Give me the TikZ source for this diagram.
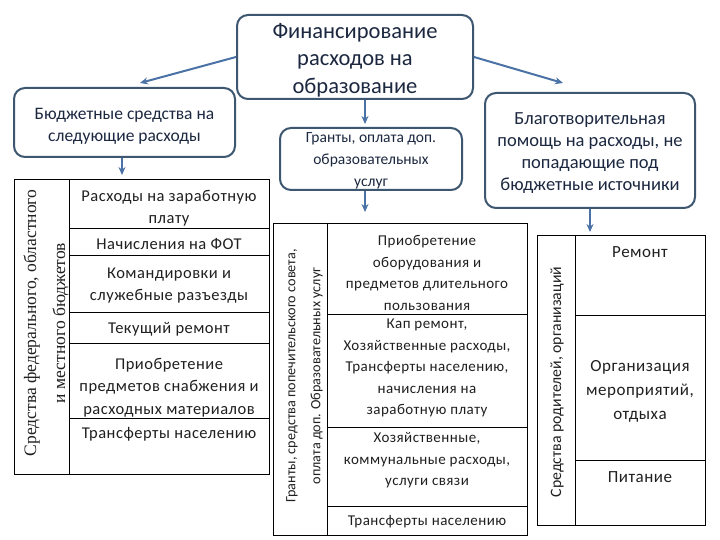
\documentclass[tikz,border=0pt]{standalone}
\usepackage{fontspec}
\setmainfont{Carlito}
\newfontfamily\seriffont{Liberation Serif}
\newfontfamily\spaced{Carlito}[LetterSpace=3]
\usetikzlibrary{arrows.meta}
\definecolor{boxline}{HTML}{3E5771}
\definecolor{arrowc}{HTML}{4A72A6}
\definecolor{boxtext}{HTML}{1C2840}
\definecolor{tabtext}{HTML}{202020}
\tikzset{
  rbox/.style={draw=boxline, line width=2pt, rounded corners=11pt, fill=white, inner sep=0pt},
  btext/.style={text=boxtext, align=center, inner sep=0pt},
  arr/.style={draw=arrowc, line width=2pt, -{Stealth[length=8pt,width=7pt]}},
  tab/.style={draw=black, line width=0.9pt, inner sep=0pt, anchor=north west},
  gridline/.style={draw=black, line width=0.9pt},
  ctext/.style={text=tabtext, align=center, inner sep=0pt, font=\spaced\fontsize{16.5}{22.5}\selectfont},
  mtext/.style={text=tabtext, align=center, inner sep=0pt, font=\spaced\fontsize{15}{21.5}\selectfont},
  rtext/.style={text=tabtext, align=center, inner sep=0pt, font=\spaced\fontsize{17}{24}\selectfont},
}
\begin{document}
\begin{tikzpicture}[x=1pt,y=-1pt]
\useasboundingbox[fill=white] (0,0) rectangle (720,540);

% rounded boxes
\node[rbox, minimum width=236pt, minimum height=84pt] (top) at (355,57) {};
\node[btext, font=\fontsize{22.5}{27.5}\selectfont] (toptxt) at (355,60) {Финансирование\\расходов на\\образование};
\node[rbox, minimum width=221pt, minimum height=69pt] (bud) at (124.5,122.5) {};
\node[btext, font=\fontsize{17.5}{22}\selectfont] (budtxt) at (124.5,126.5) {Бюджетные средства на\\следующие расходы};
\node[rbox, minimum width=182pt, minimum height=62pt] (gr) at (371,159) {};
\node[btext, font=\fontsize{15.5}{22}\selectfont] (grtxt) at (371,161) {Гранты, оплата доп.\\образовательных\\услуг};
\node[rbox, minimum width=210pt, minimum height=115pt] (ch) at (590,150.5) {};
\node[btext, font=\fontsize{18.5}{22}\selectfont] (chtxt) at (590,153.5) {Благотворительная\\помощь на расходы, не\\попадающие под\\бюджетные источники};

% tables (outer frames)
\node[tab, minimum width=255pt, minimum height=295pt] (lt) at (14,179) {};
\node[tab, minimum width=254pt, minimum height=312pt] (mt) at (273,223) {};
\node[tab, minimum width=168pt, minimum height=290pt] (rt) at (537,235) {};

% left table grid
\draw[gridline] (69,179) -- (69,474);
\foreach \yy in {228,255,312,343,418} \draw[gridline] (69,\yy) -- (269,\yy);
% middle table grid
\draw[gridline] (327,223) -- (327,535);
\foreach \yy in {314,427,506} \draw[gridline] (327,\yy) -- (527,\yy);
% right table grid
\draw[gridline] (575,235) -- (575,525);
\foreach \yy in {315,460} \draw[gridline] (575,\yy) -- (705,\yy);

% arrows
\coordinate (a1) at (140,83);
\coordinate (a2) at (563,83);
\draw[arr] (top.west) -- (a1);
\draw[arr] (top.east) -- (a2);
\draw[arr] ([xshift=-6pt]gr.north |- top.south) -- ([xshift=-6pt,yshift=3pt]gr.north);
\draw[arr] ([xshift=-2.5pt]bud.south) -- ([xshift=-2.5pt,yshift=4pt]bud.south |- lt.north);
\draw[arr] ([xshift=-6pt]gr.south) -- ([xshift=-6pt,yshift=11pt]gr.south |- mt.north);
\draw[arr] (ch.south) -- ([yshift=3pt]ch.south |- rt.north);

% left table texts
\node[rotate=90, align=center, inner sep=0pt, text=tabtext, font=\seriffont\fontsize{17.5}{29}\selectfont] (lv) at (46,323) {Средства федерального, областного\\и местного бюджетов};
\node[ctext] (l1) at (169,208) {Расходы на заработную\\плату};
\node[ctext] (l2) at (169,244) {Начисления на ФОТ};
\node[ctext] (l3) at (169,285.5) {Командировки и\\служебные разъезды};
\node[ctext] (l4) at (169,329) {Текущий ремонт};
\node[ctext] (l5) at (169,387.5) {Приобретение\\предметов снабжения и\\расходных материалов};
\node[ctext] (l6) at (169,434) {Трансферты населению};

% middle table texts
\node[rotate=90, align=center, inner sep=0pt, text=tabtext, font=\fontsize{14.2}{25}\selectfont] (mv) at (304.5,376) {Гранты, средства попечительского совета,\\оплата доп. Образовательных услуг};
\node[mtext] (m1) at (427,273) {Приобретение\\оборудования и\\предметов длительного\\пользования};
\node[mtext] (m2) at (427,368) {Кап ремонт,\\Хозяйственные расходы,\\Трансферты населению,\\начисления на\\заработную плату};
\node[mtext] (m3) at (427,460.5) {Хозяйственные,\\коммунальные расходы,\\услуги связи};
\node[mtext] (m4) at (427,522) {Трансферты населению};

% right table texts
\node[rotate=90, inner sep=0pt, text=tabtext, font=\fontsize{15.8}{20}\selectfont] (rv) at (557,382) {Средства родителей, организаций};
\node[rtext] (r1) at (640,252) {Ремонт};
\node[rtext] (r2) at (640,391) {Организация\\мероприятий,\\отдыха};
\node[rtext] (r3) at (640,477) {Питание};
\end{tikzpicture}
\end{document}
